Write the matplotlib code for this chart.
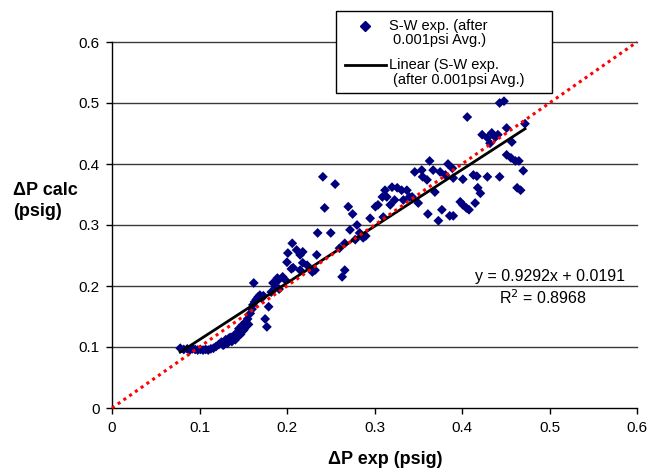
import matplotlib
matplotlib.use("Agg")
import matplotlib.pyplot as plt
from matplotlib.lines import Line2D
from matplotlib.patches import Rectangle
import numpy as np

plt.rcParams['font.family'] = ['Liberation Sans', 'DejaVu Sans']

# Data: measured vs calculated pressure drop (psig)
dp_exp = [
    0.078, 0.082, 0.086, 0.089, 0.092, 0.095, 0.098, 0.101, 0.104, 0.107,
    0.110, 0.113, 0.116, 0.119, 0.122, 0.125, 0.127, 0.130, 0.132, 0.134,
    0.137, 0.139, 0.141, 0.143, 0.145, 0.147, 0.149, 0.151, 0.153, 0.155,
    0.156, 0.158, 0.160, 0.161, 0.162, 0.163, 0.165, 0.167, 0.169, 0.171,
    0.173, 0.175, 0.177, 0.179, 0.182, 0.184, 0.187, 0.189, 0.191, 0.189,
    0.195, 0.200, 0.201, 0.206, 0.211, 0.215, 0.218, 0.218, 0.215, 0.207,
    0.223, 0.229, 0.232, 0.234, 0.235, 0.241, 0.255, 0.243, 0.250, 0.263,
    0.266, 0.270, 0.275, 0.272, 0.266, 0.280, 0.283, 0.287, 0.290, 0.295,
    0.301, 0.304, 0.310, 0.309, 0.312, 0.314, 0.318, 0.320, 0.323, 0.326,
    0.331, 0.333, 0.337, 0.343, 0.350, 0.346, 0.354, 0.355, 0.360, 0.363,
    0.367, 0.369, 0.361, 0.373, 0.377, 0.375, 0.381, 0.384, 0.389, 0.386,
    0.390, 0.390, 0.398, 0.401, 0.405, 0.408, 0.401, 0.413, 0.417, 0.418,
    0.421, 0.415, 0.406, 0.429, 0.423, 0.429, 0.434, 0.438, 0.441, 0.432,
    0.443, 0.443, 0.448, 0.451, 0.457, 0.451, 0.456, 0.461, 0.465, 0.470,
    0.463, 0.467, 0.472, 0.260, 0.278, 0.340, 0.198, 0.205, 0.136, 0.146,
    0.128, 0.150,
]
dp_calc = [
    0.098, 0.096, 0.097, 0.095, 0.097, 0.096, 0.095, 0.096, 0.095, 0.096,
    0.095, 0.097, 0.098, 0.101, 0.104, 0.108, 0.103, 0.112, 0.106, 0.115,
    0.109, 0.118, 0.112, 0.124, 0.130, 0.121, 0.136, 0.129, 0.141, 0.146,
    0.137, 0.155, 0.162, 0.169, 0.205, 0.174, 0.178, 0.182, 0.185, 0.180,
    0.184, 0.146, 0.133, 0.166, 0.190, 0.205, 0.198, 0.208, 0.195, 0.213,
    0.215, 0.239, 0.254, 0.270, 0.259, 0.251, 0.256, 0.238, 0.226, 0.230,
    0.234, 0.223, 0.226, 0.251, 0.287, 0.379, 0.367, 0.328, 0.287, 0.215,
    0.226, 0.330, 0.318, 0.292, 0.270, 0.300, 0.287, 0.279, 0.282, 0.311,
    0.330, 0.333, 0.313, 0.346, 0.357, 0.346, 0.333, 0.362, 0.341, 0.361,
    0.357, 0.341, 0.357, 0.346, 0.336, 0.387, 0.390, 0.379, 0.374, 0.405,
    0.390, 0.354, 0.318, 0.307, 0.325, 0.387, 0.382, 0.400, 0.393, 0.315,
    0.315, 0.377, 0.338, 0.333, 0.328, 0.325, 0.375, 0.382, 0.380, 0.361,
    0.352, 0.336, 0.477, 0.379, 0.448, 0.443, 0.451, 0.444, 0.448, 0.434,
    0.379, 0.500, 0.503, 0.459, 0.436, 0.415, 0.410, 0.405, 0.405, 0.389,
    0.361, 0.357, 0.466, 0.262, 0.276, 0.346, 0.210, 0.228, 0.116, 0.120,
    0.104, 0.127,
]

slope = 0.9292
intercept = 0.0191
r2 = 0.8968

x_ticks = [0, 0.1, 0.2, 0.3, 0.4, 0.5, 0.6]
y_ticks = [0, 0.1, 0.2, 0.3, 0.4, 0.5, 0.6]
x_ticklabels = ['0', '0.1', '0.2', '0.3', '0.4', '0.5', '0.6']
y_ticklabels = ['0', '0.1', '0.2', '0.3', '0.4', '0.5', '0.6']

W, H = 647, 471
fig = plt.figure(figsize=(W / 100, H / 100), dpi=100)
ax = fig.add_axes([112 / W, 1 - 408 / H, (637 - 112) / W, (408 - 42) / H])

ax.set_xlim(0, 0.6)
ax.set_ylim(0, 0.6)
ax.set_xticks(x_ticks)
ax.set_xticklabels(x_ticklabels)
ax.set_yticks(y_ticks)
ax.set_yticklabels(y_ticklabels)
ax.tick_params(direction='out', length=4, width=1, labelsize=11, colors='black', pad=5)

for s in ['top', 'right']:
    ax.spines[s].set_visible(False)
for s in ['left', 'bottom']:
    ax.spines[s].set_color('black')
    ax.spines[s].set_linewidth(1)

for yv in y_ticks[1:]:
    ax.axhline(yv, color='#3a3a3a', lw=1, zorder=0.5, clip_on=False)

navy = '#00007f'
ax.scatter(dp_exp, dp_calc, marker='D', s=25, color=navy, edgecolors='none', zorder=2)

xs = np.array([min(dp_exp), max(dp_exp)])
ax.plot(xs, slope * xs + intercept, color='black', lw=2, zorder=3)

ax.plot([0, 0.6], [0, 0.6], color='red', lw=2.2, linestyle=(0, (1, 1.3)), zorder=4, clip_on=False)

fig.text(625 / W, 1 - 276 / H, f'y = {slope}x + {intercept}', ha='right', va='center', fontsize=11.5)
fig.text(543 / W, 1 - 298 / H, f'R$^2$ = {r2}', ha='center', va='center', fontsize=11.5)

fig.text(13 / W, 1 - 201 / H, '\u0394P calc\n(psig)', ha='left', va='center', fontsize=13,
         fontweight='bold', linespacing=1.3)
fig.text(385 / W, 1 - 460 / H, '\u0394P exp (psig)', ha='center', va='center', fontsize=13,
         fontweight='bold')

# Legend box (drawn in figure pixel coordinates)
def fx(px):
    return px / W

def fy(py):
    return 1 - py / H

fig.patches.append(Rectangle((fx(336), fy(93)), fx(552) - fx(336), fy(11) - fy(93),
                             transform=fig.transFigure, facecolor='white', edgecolor='black',
                             lw=1, zorder=10))
fig.lines.append(Line2D([fx(365)], [fy(26)], marker='D', color=navy, markersize=5.2,
                        linestyle='none', transform=fig.transFigure, zorder=11))
fig.lines.append(Line2D([fx(345), fx(386)], [fy(65), fy(65)], color='black', lw=2,
                        transform=fig.transFigure, zorder=11))
leg_font = 10.5
fig.text(fx(389), fy(26), 'S-W exp. (after', ha='left', va='center', fontsize=leg_font, zorder=12)
fig.text(fx(393), fy(40), '0.001psi Avg.)', ha='left', va='center', fontsize=leg_font, zorder=12)
fig.text(fx(389), fy(65), 'Linear (S-W exp.', ha='left', va='center', fontsize=leg_font, zorder=12)
fig.text(fx(393), fy(80), '(after 0.001psi Avg.)', ha='left', va='center', fontsize=leg_font, zorder=12)

fig.savefig('out.png', dpi=100)
